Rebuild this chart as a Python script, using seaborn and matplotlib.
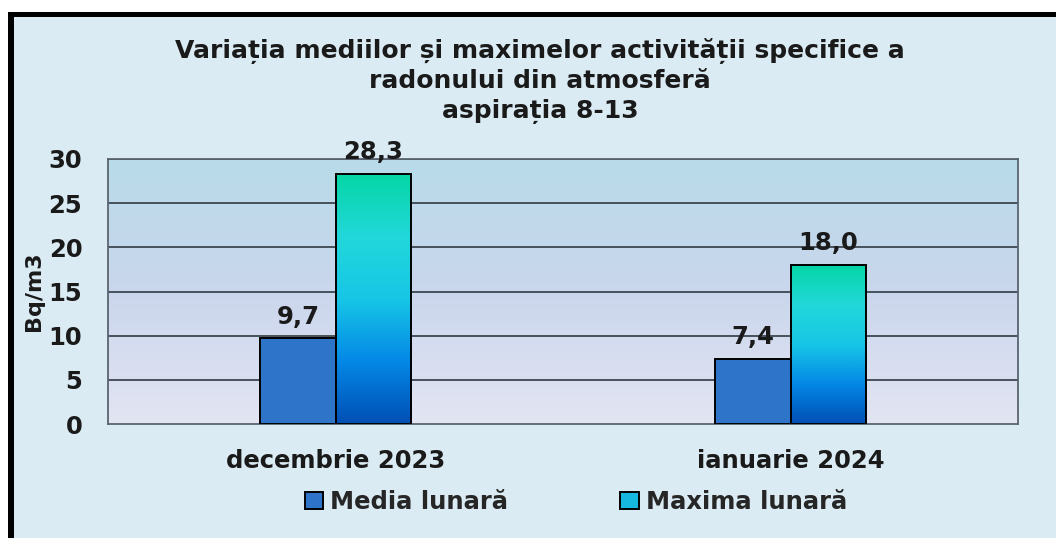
import numpy as np
import pandas as pd
import seaborn as sns
import matplotlib.pyplot as plt
from matplotlib.patches import Rectangle, Patch
from matplotlib.colors import LinearSegmentedColormap

# data
months = ["decembrie 2023", "ianuarie 2024"]
media = [9.7, 7.4]
maxima = [28.3, 18.0]
series = ["Media lunară", "Maxima lunară"]
yticks = [0, 5, 10, 15, 20, 25, 30]

df = pd.DataFrame({
    "luna": months * 2,
    "serie": [series[0]] * len(months) + [series[1]] * len(months),
    "valoare": media + maxima,
})

sns.set_theme(style="white")
plt.rcParams['font.family'] = ['DejaVu Sans']
plt.rcParams['font.weight'] = 'bold'

W, H = 1056, 538
fig = plt.figure(figsize=(W / 100, H / 100), dpi=100, facecolor='white')

# frame: light blue panel with black top/left edge
fig.add_artist(Rectangle((8 / W, 0), 1, 1 - 12 / H, transform=fig.transFigure,
                         facecolor='black', edgecolor='none', zorder=0))
fig.add_artist(Rectangle((14 / W, 0), 1, 1 - 17 / H, transform=fig.transFigure,
                         facecolor='#daebf3', edgecolor='none', zorder=0))

ax = fig.add_axes([108 / W, 1 - 424 / H, 910 / W, 265 / H])
ax.patch.set_alpha(0)

media_col = '#2e74c8'
grad_cmap = LinearSegmentedColormap.from_list(
    'maxgrad', ['#004fb4', '#0488e6', '#17c6e6', '#22d8da', '#05d6a6'])
bg_cmap = LinearSegmentedColormap.from_list('bg', ['#e3e5f3', '#cad6ec', '#b8dbe9'])

sns.barplot(data=df, x="luna", y="valoare", hue="serie", hue_order=series,
            palette=[media_col, '#17c6e6'], saturation=1, width=0.33, gap=0,
            edgecolor='black', linewidth=1.4, ax=ax, legend=False, zorder=3)

# plot-area background gradient
ax.imshow(np.linspace(0, 1, 256).reshape(-1, 1), cmap=bg_cmap, aspect='auto',
          extent=[0, 1, 0, 1], transform=ax.transAxes, origin='lower', zorder=0)

# gradient fill on the maxima bars
for bar in ax.patches[len(months):2 * len(months)]:
    x0, y0 = bar.get_x(), bar.get_y()
    w, h = bar.get_width(), bar.get_height()
    im = ax.imshow(np.linspace(0, 1, 256).reshape(-1, 1), cmap=grad_cmap,
                   aspect='auto', origin='lower',
                   extent=[x0, x0 + w, y0, y0 + h], zorder=3.5)
    im.set_clip_path(bar)
    bar.set_facecolor('none')
    bar.set_zorder(4)
ax.set_xlim(-0.5, 1.5)
ax.set_ylim(0, 30)

# grid lines
for yv in yticks[1:]:
    ax.axhline(yv, color='#3c4650', linewidth=1.3, zorder=1)

# value labels
for cont in ax.containers:
    ax.bar_label(cont, labels=[f"{v:.1f}".replace('.', ',') for v in cont.datavalues],
                 padding=7, fontsize=17.5, fontweight='bold', color='#1a1a1a')

ax.set_yticks(yticks)
ax.set_yticklabels([str(t) for t in yticks], fontsize=17.5, fontweight='bold', color='#1a1a1a')
ax.tick_params(axis='y', length=0, pad=18.5)
ax.tick_params(axis='x', length=0, pad=18, labelsize=17.5, labelcolor='#1a1a1a')
for lbl in ax.get_xticklabels():
    lbl.set_fontweight('bold')
ax.set_xlabel("")
ax.set_ylabel("Bq/m3", fontsize=16, fontweight='bold', color='#1a1a1a')
ax.yaxis.set_label_coords((44 - 108) / 910, 0.5)
for side in ['left', 'right', 'bottom', 'top']:
    ax.spines[side].set_color('#5a6470')
    ax.spines[side].set_linewidth(1.3)
    ax.spines[side].set_visible(True)

# title
fig.text(540 / W, 1 - 81 / H,
         "Variația mediilor și maximelor activității specifice a\nradonului din atmosferă\naspirația 8-13",
         ha='center', va='center', fontsize=18, fontweight='bold', color='#1a1a1a',
         linespacing=1.3)

# legend
handles = [Patch(facecolor=media_col, edgecolor='black', linewidth=1.4),
           Patch(facecolor='#17b8e0', edgecolor='black', linewidth=1.4)]
fig.legend(handles, series, loc='center', bbox_to_anchor=(576 / W, 1 - 502 / H),
           ncol=2, frameon=False, handlelength=0.75, handleheight=0.75,
           handletextpad=0.3, columnspacing=4.6, prop={'weight': 'bold', 'size': 17.5})

fig.savefig("out.png", dpi=100, facecolor=fig.get_facecolor())
